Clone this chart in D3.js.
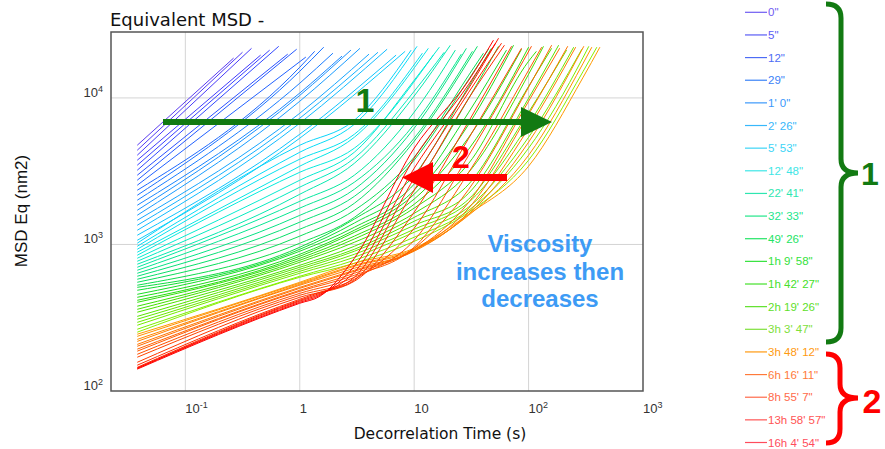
<!DOCTYPE html>
<html lang="en">
<head>
<meta charset="UTF-8">
<title>Equivalent MSD</title>
<style>
  html, body { margin: 0; padding: 0; background: #fff; }
  svg { display: block; }
  text { font-family: "Liberation Sans", Arial, sans-serif; }
</style>
<script src="https://d3js.org/d3.v7.min.js"></script>
</head>
<body>
<script>
// ---- data ----
const legendLabels = ['0"', '5"', '12"', '29"', "1' 0\"", "2' 26\"", "5' 53\"", "12' 48\"",
  "22' 41\"", "32' 33\"", "49' 26\"", "1h 9' 58\"", "1h 42' 27\"", "2h 19' 26\"", "3h 3' 47\"",
  "3h 48' 12\"", "6h 16' 11\"", "8h 55' 7\"", "13h 58' 57\"", "16h 4' 54\""];

const legendColors = ['#6f5cf2', '#5a5cf5', '#4d6cf5', '#3a82f7', '#3b98fb', '#38b8fb', '#3cd4f6',
  '#3ee6e6', '#2ee6b0', '#22e68a', '#22e464', '#33e23c', '#45e02a', '#5ee02a', '#7ee03a',
  '#ff9a10', '#ff7a3a', '#ff6a4a', '#ff5454', '#ff4c5c'];

// [time (s), MSD (nm2)] for each curve
const blueCurves = [
  [[0.038, 4755], [0.264, 18700]],
  [[0.038, 4396], [0.316, 20500]],
  [[0.038, 4064], [0.379, 21800]],
  [[0.038, 3757], [0.455, 19600]],
  [[0.038, 3473], [0.546, 21200]],
  [[0.038, 3210], [0.655, 22500]],
  [[0.038, 2968], [0.785, 19900]],
  [[0.038, 2744], [0.94, 21500]],
  [[0.038, 2536], [1.13, 19000]],
  [[0.038, 2345], [1, 16200], [1.35, 20800]],
  [[0.038, 2167], [1, 15200], [1.62, 22200]],
  [[0.038, 2004], [1, 12600], [1.95, 20200]],
  [[0.038, 1852], [1, 10800], [2.34, 19300]],
  [[0.038, 1712], [1, 10400], [2.80, 21200]],
  [[0.038, 1583], [1, 9490], [3.36, 21800]],
  [[0.038, 1463], [1, 7860], [4.03, 19900]],
  [[0.038, 1352], [1, 7270], [4.83, 20500]],
  [[0.038, 1250], [1, 6720], [5.80, 21500]],
  [[0.038, 1156], [1, 5650], [6.95, 19600]],
  [[0.038, 1068], [1, 5310], [8.34, 20800]]
];

const cyanCurves = [
  [[0.038, 1020], [1, 4755], [3, 7040], [9.41, 21200]],
  [[0.038, 972], [1, 4260], [3, 6610], [10.6, 22500]],
  [[0.038, 927], [1, 3820], [3, 5650], [11.8, 20200]],
  [[0.038, 885], [1, 3420], [3, 5390], [13.3, 21800]],
  [[0.038, 844], [1, 3110], [3, 4540], [14.7, 19600]],
  [[0.038, 805], [1, 2744], [3, 4260], [10, 13200], [16.6, 22200]],
  [[0.038, 768], [1, 2460], [3, 3880], [10, 11100], [18.3, 20500]],
  [[0.038, 733], [1, 2200], [3, 3580], [10, 10300], [20.7, 22900]],
  [[0.038, 699], [1, 1970], [3, 2970], [10, 7990], [22.9, 21200]],
  [[0.038, 667], [1, 1770], [3, 2660], [10, 6610], [25.8, 19900]],
  [[0.038, 636], [1, 1580], [3, 2380], [10, 6210], [28.6, 21800]],
  [[0.038, 607], [1, 1420], [3, 2130], [10, 5310], [32.3, 20800]],
  [[0.038, 579], [1, 1270], [3, 1910], [10, 5060], [35.7, 22500]],
  [[0.038, 552], [1, 1140], [3, 1710], [10, 3940], [30, 14300], [40.3, 20200]],
  [[0.038, 527], [1, 1020], [3, 1530], [10, 3760], [30, 13400], [44.6, 21500]]
];

const greenCurves = [
  [[0.038, 510], [1, 957], [3, 1490], [10, 2970], [30, 12000], [47.3, 21800]],
  [[0.038, 487], [1, 927], [3, 1400], [10, 2580], [30, 9950], [54.6, 22500]],
  [[0.038, 457], [1, 899], [3, 1310], [10, 2345], [30, 7990], [64.1, 21200]],
  [[0.038, 436], [1, 857], [3, 1250], [10, 2200], [30, 6610], [73.9, 22900]],
  [[0.038, 416], [1, 831], [3, 1210], [10, 2040], [30, 5390], [86.8, 21500]],
  [[0.038, 403], [1, 805], [3, 1140], [10, 1880], [30, 4470], [100, 22200]],
  [[0.038, 379], [1, 780], [3, 1090], [10, 1770], [30, 3580], [100, 17800], [117, 20800]],
  [[0.038, 361], [1, 756], [3, 1035], [10, 1630], [30, 3110], [100, 14500], [135, 22500]],
  [[0.038, 345], [1, 721], [3, 972], [10, 1530], [30, 2580], [100, 12000], [159, 21800]],
  [[0.038, 323], [1, 699], [3, 927], [10, 1440], [30, 2240], [100, 9950], [183, 22900]],
  [[0.038, 309], [1, 677], [3, 899], [10, 1352], [30, 2040], [100, 7990], [215, 21200]],
  [[0.038, 294], [1, 656], [3, 857], [10, 1270], [30, 1940], [100, 6610], [248, 22200]],
  [[0.038, 281], [1, 636], [3, 818], [10, 1211], [30, 1800], [100, 5390], [292, 21500]],
  [[0.038, 264], [1, 607], [3, 780], [10, 1120], [30, 1712], [100, 4540], [300, 18960], [336, 22500]],
  [[0.038, 252], [1, 597], [3, 744], [10, 1050], [30, 1660], [100, 3760], [300, 15200], [395, 22200]]
];

const lateCurves = [
  [[0.038, 244], [1, 552], [3, 744], [10, 942], [30, 1610], [100, 3420], [300, 13850], [420, 22200]],
  [[0.038, 236], [1, 544], [3, 721], [10, 927], [30, 1583], [100, 4064], [300, 17260], [357, 22200]],
  [[0.038, 225], [1, 535], [3, 710], [10, 913], [30, 1610], [100, 4990], [304, 22530]],
  [[0.038, 218], [1, 527], [3, 688], [10, 899], [30, 1660], [100, 6210], [258, 22200]],
  [[0.038, 208], [1, 510], [3, 667], [10, 913], [30, 1770], [100, 7740], [220, 22530]],
  [[0.038, 202], [1, 502], [3, 656], [10, 913], [30, 1940], [100, 9490], [187, 21840]],
  [[0.038, 193], [1, 487], [3, 636], [10, 942], [30, 2380], [100, 11830], [159, 22890]],
  [[0.038, 187], [1, 479], [3, 616], [10, 957], [30, 3110], [100, 15450], [130, 22180]],
  [[0.038, 178], [1, 464], [3, 597], [10, 1068], [30, 4064], [106, 22530]],
  [[0.038, 170], [1, 450], [3, 579], [10, 1290], [30, 5310], [86.8, 21840]],
  [[0.038, 157], [1, 436], [3, 561], [10, 1660], [30, 6930], [71, 22530]],
  [[0.038, 150], [1, 423], [1.5, 472], [3, 570], [10, 2345], [30, 9950], [61.5, 22890]],
  [[0.038, 145], [1, 416], [1.5, 464], [3, 597], [10, 2830], [30, 10940], [58, 23620]],
  [[0.038, 143], [1, 410], [1.5, 457], [3, 646], [10, 3310], [30, 11650], [54.6, 25550]],
  [[0.038, 143], [1, 403], [1.5, 450], [3, 710], [10, 3880], [30, 12400], [51.4, 23620]],
  [[0.038, 141], [1, 397], [1.5, 443], [3, 805], [10, 4540], [30, 13210], [49.3, 24770]]
];

const xTicks = [0.1, 1, 10, 100, 1000];
const xTickBase = ['10', '1', '10', '10', '10'];
const xTickExp = ['-1', '', '', '2', '3'];
const yTicks = [100, 1000, 10000];
const yTickExp = ['2', '3', '4'];

const noteLines = ['Viscosity', 'increases then', 'decreases'];

// ---- layout ----
const W = 885, H = 449;
const plot = { left: 111, top: 32, right: 643, bottom: 391 };
const darkGreen = '#127a12';

const svg = d3.select('body').append('svg')
  .attr('width', W).attr('height', H);

const x = d3.scaleLog().domain([0.0224, 1000]).range([plot.left, plot.right]);
const y = d3.scaleLog().domain([100, 28180]).range([plot.bottom, plot.top]);

// grid
svg.append('g').selectAll('line').data(xTicks.filter(t => t < 1000)).join('line')
  .attr('x1', d => x(d)).attr('x2', d => x(d))
  .attr('y1', plot.top).attr('y2', plot.bottom)
  .attr('stroke', '#d4d4d4').attr('stroke-width', 1);
svg.append('g').selectAll('line').data(yTicks.filter(t => t > 100)).join('line')
  .attr('x1', plot.left).attr('x2', plot.right)
  .attr('y1', d => y(d)).attr('y2', d => y(d))
  .attr('stroke', '#d4d4d4').attr('stroke-width', 1);

// curves
const line = d3.line().x(d => x(d[0])).y(d => y(d[1])).curve(d3.curveMonotoneX);

const early = blueCurves.concat(cyanCurves, greenCurves);
const earlyColor = d3.piecewise(d3.interpolateRgb, ['#5a3cf0', '#3c3cff', '#2458ff', '#1a78ff',
  '#1a9cff', '#10c0ff', '#08dcf8', '#06ecd8', '#06e8a0', '#08e070', '#10dc40', '#22dc12',
  '#44e000', '#66e800', '#88f000']);
const lateColor = d3.piecewise(d3.interpolateRgb, ['#ff9900', '#ff7700', '#ff5500', '#ff2a00', '#ff0000']);

const curves = svg.append('g');
curves.selectAll('path.early').data(early).join('path')
  .attr('class', 'early')
  .attr('d', line)
  .attr('fill', 'none')
  .attr('stroke', (d, i) => earlyColor(i / (early.length - 1)))
  .attr('stroke-width', 1);
curves.selectAll('path.late').data(lateCurves).join('path')
  .attr('class', 'late')
  .attr('d', line)
  .attr('fill', 'none')
  .attr('stroke', (d, i) => lateColor(i / (lateCurves.length - 1)))
  .attr('stroke-width', 1);

// frame
svg.append('rect')
  .attr('x', plot.left).attr('y', plot.top)
  .attr('width', plot.right - plot.left).attr('height', plot.bottom - plot.top)
  .attr('fill', 'none').attr('stroke', '#555').attr('stroke-width', 1.5);

// tick labels
const xl = svg.append('g').selectAll('text').data(xTicks).join('text')
  .attr('x', d => x(d)).attr('y', 413)
  .attr('font-size', 13).attr('fill', '#333');
xl.append('tspan').text((d, i) => xTickBase[i]);
xl.append('tspan').attr('dy', -5).attr('font-size', 9).text((d, i) => xTickExp[i]);

const yl = svg.append('g').selectAll('text').data(yTicks).join('text')
  .attr('x', 103).attr('y', d => y(d) - 1)
  .attr('text-anchor', 'end')
  .attr('font-size', 13).attr('fill', '#333');
yl.append('tspan').text('10');
yl.append('tspan').attr('dy', -5).attr('font-size', 9).text((d, i) => yTickExp[i]);

// titles
svg.append('text').attr('x', 110).attr('y', 26)
  .style('font-family', '"DejaVu Sans", sans-serif')
  .attr('font-size', 18).attr('fill', '#111').text('Equivalent MSD -');
svg.append('text').attr('x', 440).attr('y', 439)
  .attr('text-anchor', 'middle')
  .style('font-family', '"DejaVu Sans", sans-serif')
  .attr('font-size', 15.5).attr('fill', '#111').text('Decorrelation Time (s)');
svg.append('text')
  .attr('transform', 'translate(27,211) rotate(-90)')
  .attr('text-anchor', 'middle')
  .attr('font-size', 17).attr('fill', '#111').text('MSD Eq (nm2)');

// annotations in the plot
svg.append('rect').attr('x', 163).attr('y', 119).attr('width', 360).attr('height', 6)
  .attr('fill', darkGreen);
svg.append('path').attr('d', 'M521,107 L552,122 L521,137 Z').attr('fill', darkGreen);
svg.append('text').attr('x', 365).attr('y', 112).attr('text-anchor', 'middle')
  .attr('font-size', 34).attr('font-weight', 'bold').attr('fill', darkGreen).text('1');

svg.append('rect').attr('x', 430).attr('y', 174).attr('width', 77).attr('height', 7)
  .attr('fill', '#ff0000');
svg.append('path').attr('d', 'M433,162 L402,177.5 L433,193 Z').attr('fill', '#ff0000');
svg.append('text').attr('x', 461).attr('y', 168).attr('text-anchor', 'middle')
  .attr('font-size', 32).attr('font-weight', 'bold').attr('fill', '#ff0000').text('2');

svg.append('g').selectAll('text').data(noteLines).join('text')
  .attr('x', 540).attr('y', (d, i) => 252 + i * 27.5)
  .attr('text-anchor', 'middle')
  .attr('font-size', 24).attr('font-weight', 'bold').attr('fill', '#3d9bf5')
  .text(d => d);

// legend
const ly = d3.scaleLinear().domain([0, legendLabels.length - 1]).range([12.3, 442.5]);
const leg = svg.append('g').selectAll('g').data(legendLabels).join('g')
  .attr('transform', (d, i) => `translate(0,${ly(i)})`);
leg.append('line').attr('x1', 745).attr('x2', 767)
  .attr('stroke', (d, i) => legendColors[i]).attr('stroke-width', 1.2);
leg.append('text').attr('x', 768).attr('dy', '0.35em')
  .attr('font-size', 11.5).attr('fill', (d, i) => legendColors[i])
  .text(d => d);

// braces
function brace(top, mid, bottom, x0, xv, xm) {
  const r = 14;
  return `M${x0},${top} Q${xv},${top} ${xv},${top + r} L${xv},${mid - r} ` +
    `Q${xv},${mid} ${xm},${mid} Q${xv},${mid} ${xv},${mid + r} ` +
    `L${xv},${bottom - r} Q${xv},${bottom} ${x0},${bottom}`;
}
svg.append('path').attr('d', brace(4, 173, 342, 826, 841, 858))
  .attr('fill', 'none').attr('stroke', darkGreen).attr('stroke-width', 5);
svg.append('text').attr('x', 870).attr('y', 185).attr('text-anchor', 'middle')
  .attr('font-size', 32).attr('font-weight', 'bold').attr('fill', darkGreen).text('1');

svg.append('path').attr('d', brace(354, 398, 443, 826, 840, 858))
  .attr('fill', 'none').attr('stroke', '#ff0000').attr('stroke-width', 5);
svg.append('text').attr('x', 872).attr('y', 413).attr('text-anchor', 'middle')
  .attr('font-size', 34).attr('font-weight', 'bold').attr('fill', '#ff0000').text('2');
</script>
</body>
</html>
